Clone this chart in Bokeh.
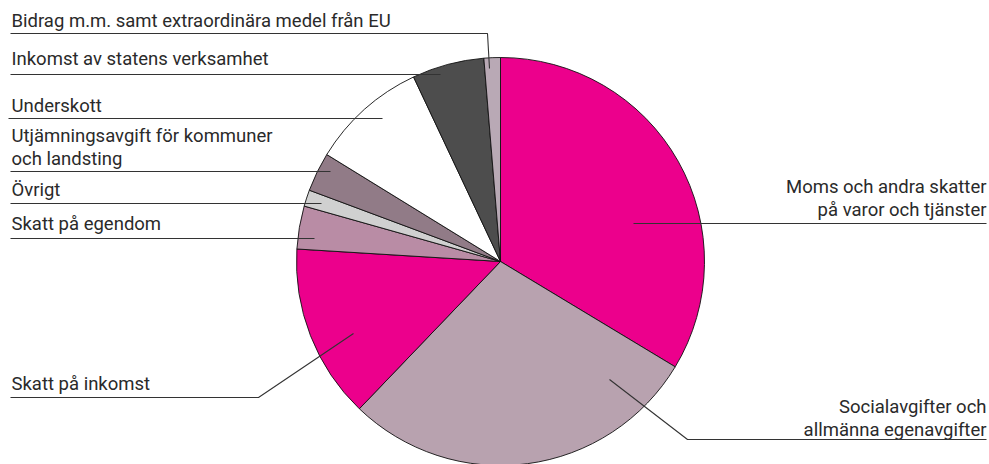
import numpy as np
from bokeh.plotting import figure
from bokeh.models import Range1d, ColumnDataSource
from bokeh.core.properties import value
from bokeh.embed import file_html
from bokeh.resources import INLINE

# ---- data (clockwise from 12 o'clock) ----
categories = ["Moms och andra skatter\npå varor och tjänster",
              "Socialavgifter och\nallmänna egenavgifter",
              "Skatt på inkomst",
              "Skatt på egendom",
              "Övrigt",
              "Utjämningsavgift för kommuner\noch landsting",
              "Underskott",
              "Inkomst av statens verksamhet",
              "Bidrag m.m. samt extraordinära medel från EU"]
shares = [33.6, 28.5, 13.8, 3.4, 1.3, 3.1, 9.2, 5.7, 1.3]
colors = ["#EC008C", "#B8A2AF", "#EC008C", "#B98CA5", "#D0D0D0",
          "#917B87", "#FFFFFF", "#4D4D4D", "#B9A9B5"]

# ---- layout (screen pixel coordinates, y down) ----
W, H = 989, 464
CX, CY, R = 500, 261, 204
def sx(x): return x
def sy(y): return H - y

# label: (text x, first baseline y, align, leader polyline points)
label_layout = [
    (986, 186, "right", [(986, 223), (633, 223)]),
    (986, 406, "right", [(986, 439), (687, 439), (609, 379)]),
    (11, 383, "left", [(10, 397), (258, 397), (353, 333)]),
    (11, 223, "left", [(10, 238), (314, 238)]),
    (11, 189, "left", [(10, 203), (321, 203)]),
    (11, 135, "left", [(10, 171), (330, 171)]),
    (11, 105, "left", [(8, 118), (382, 118)]),
    (11, 58, "left", [(10, 74), (440, 74)]),
    (11, 20, "left", [(10, 33), (487, 33), (489, 68)]),
]

p = figure(width=W, height=H, output_backend="svg", toolbar_location=None,
           x_range=Range1d(0, W), y_range=Range1d(0, H), min_border=0)
p.axis.visible = False
p.grid.visible = False
p.outline_line_color = None
p.background_fill_color = "white"

vals = np.array(shares, dtype=float)
frac = vals / vals.sum()
cum = np.concatenate([[0], np.cumsum(frac)])
start = np.pi / 2 - cum[:-1] * 2 * np.pi
end = np.pi / 2 - cum[1:] * 2 * np.pi

src = ColumnDataSource(dict(start=start, end=end, color=colors))
p.wedge(x=sx(CX), y=sy(CY), radius=R, start_angle="start", end_angle="end",
        direction="clock", fill_color="color", line_color="#111111",
        line_width=0.9, source=src)

LH = 23
for cat, (tx, ty, align, pts) in zip(categories, label_layout):
    lines = cat.split("\n")
    for i, ln in enumerate(lines):
        p.text(x=[sx(tx)], y=[sy(ty + i * LH)], text=[ln],
               text_font=value("Roboto"), text_font_size="18.5px",
               text_color="#2a2a2a", text_align=align,
               text_baseline="alphabetic")
    xs = [sx(a) for a, b in pts]
    ys = [sy(b) for a, b in pts]
    p.line(xs, ys, line_color="#333333", line_width=1.1)

open("out.html", "w").write(file_html(p, INLINE))
